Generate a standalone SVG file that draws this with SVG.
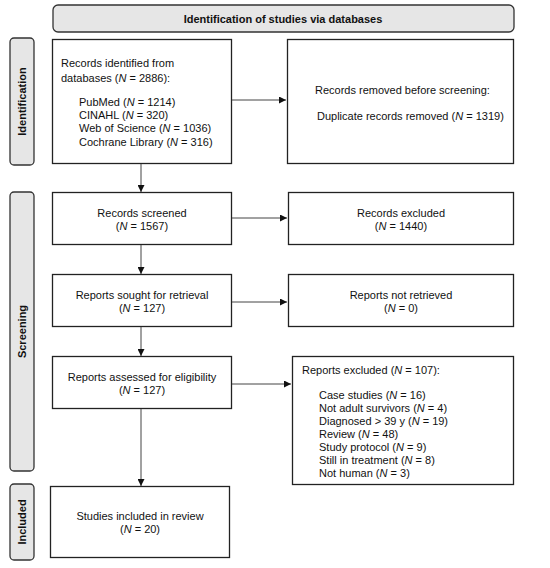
<svg xmlns="http://www.w3.org/2000/svg" width="550" height="568" viewBox="0 0 550 568">
<defs>
<marker id="ah" viewBox="0 0 10 10" refX="10" refY="5" markerWidth="7" markerHeight="7" orient="auto" markerUnits="userSpaceOnUse">
<path d="M0,0 L10,5 L0,10 z" fill="#111"/>
</marker>
</defs>
<style>
text{font-family:"Liberation Sans",Arial,sans-serif;font-size:11px;fill:#111}
.b{font-weight:bold}
.c{text-anchor:middle}
.i{font-style:italic}
.box{fill:#fff;stroke:#222;stroke-width:1.3}
.lab{fill:#e6e6e6;stroke:#333;stroke-width:1.3}
.con{stroke:#444;stroke-width:1;fill:none;marker-end:url(#ah)}
</style>
<rect width="550" height="568" fill="#fff"/>
<g id="header">
<rect class="lab" x="53" y="5" width="461" height="27" rx="5"/>
<text class="b c" x="283" y="23">Identification of studies via databases</text>
</g>
<g id="phase-identification">
<rect class="lab" x="10" y="38" width="24" height="127" rx="4"/>
<text class="b c" transform="translate(26,101.5) rotate(-90)">Identification</text>
</g>
<g id="phase-screening">
<rect class="lab" x="10" y="192" width="24" height="279" rx="4"/>
<text class="b c" transform="translate(26,331.5) rotate(-90)">Screening</text>
</g>
<g id="phase-included">
<rect class="lab" x="10" y="484" width="24" height="76" rx="4"/>
<text class="b c" transform="translate(26,522) rotate(-90)">Included</text>
</g>
<g id="identified">
<rect class="box" x="52.5" y="39.5" width="179" height="124"/>
<text x="61" y="67">Records identified from</text>
<text x="61" y="82">databases (<tspan class="i">N</tspan> = 2886):</text>
<text x="79" y="106">PubMed (<tspan class="i">N</tspan> = 1214)</text>
<text x="79" y="119">CINAHL (<tspan class="i">N</tspan> = 320)</text>
<text x="79" y="132">Web of Science (<tspan class="i">N</tspan> = 1036)</text>
<text x="79" y="146">Cochrane Library (<tspan class="i">N</tspan> = 316)</text>
</g>
<g id="removed">
<rect class="box" x="287.5" y="39.5" width="226" height="124"/>
<text x="315" y="94">Records removed before screening:</text>
<text x="317" y="120">Duplicate records removed (<tspan class="i">N</tspan> = 1319)</text>
</g>
<g id="screened">
<rect class="box" x="52.5" y="192.5" width="179" height="52"/>
<text class="c" x="142" y="217">Records screened</text>
<text class="c" x="142" y="230">(<tspan class="i">N</tspan> = 1567)</text>
</g>
<g id="excluded">
<rect class="box" x="288.5" y="192.5" width="225" height="52"/>
<text class="c" x="401" y="217">Records excluded</text>
<text class="c" x="401" y="230">(<tspan class="i">N</tspan> = 1440)</text>
</g>
<g id="sought">
<rect class="box" x="52.5" y="274.5" width="179" height="52"/>
<text class="c" x="142" y="299">Reports sought for retrieval</text>
<text class="c" x="142" y="312">(<tspan class="i">N</tspan> = 127)</text>
</g>
<g id="notretrieved">
<rect class="box" x="288.5" y="274.5" width="225" height="52"/>
<text class="c" x="401" y="299">Reports not retrieved</text>
<text class="c" x="401" y="312">(<tspan class="i">N</tspan> = 0)</text>
</g>
<g id="assessed">
<rect class="box" x="52.5" y="356.5" width="179" height="52"/>
<text class="c" x="142" y="381">Reports assessed for eligibility</text>
<text class="c" x="142" y="394">(<tspan class="i">N</tspan> = 127)</text>
</g>
<g id="reportsexcluded">
<rect class="box" x="292.5" y="356.5" width="221" height="128"/>
<text x="302" y="374">Reports excluded (<tspan class="i">N</tspan> = 107):</text>
<text x="319" y="399">Case studies (<tspan class="i">N</tspan> = 16)</text>
<text x="319" y="412">Not adult survivors (<tspan class="i">N</tspan> = 4)</text>
<text x="319" y="425">Diagnosed &gt; 39 y (<tspan class="i">N</tspan> = 19)</text>
<text x="319" y="438">Review (<tspan class="i">N</tspan> = 48)</text>
<text x="319" y="451">Study protocol (<tspan class="i">N</tspan> = 9)</text>
<text x="319" y="464">Still in treatment (<tspan class="i">N</tspan> = 8)</text>
<text x="319" y="477">Not human (<tspan class="i">N</tspan> = 3)</text>
</g>
<g id="included">
<rect class="box" x="50.5" y="486.5" width="179" height="71"/>
<text class="c" x="140" y="520">Studies included in review</text>
<text class="c" x="140" y="533">(<tspan class="i">N</tspan> = 20)</text>
</g>
<g id="connectors">
<line class="con" x1="232" y1="100" x2="286" y2="100"/>
<line class="con" x1="141" y1="164" x2="141" y2="192"/>
<line class="con" x1="232" y1="218" x2="287" y2="218"/>
<line class="con" x1="141" y1="245" x2="141" y2="274"/>
<line class="con" x1="232" y1="302" x2="287" y2="302"/>
<line class="con" x1="141" y1="327" x2="141" y2="356"/>
<line class="con" x1="232" y1="384" x2="291" y2="384"/>
<line class="con" x1="141" y1="409" x2="141" y2="486"/>
</g>
</svg>
